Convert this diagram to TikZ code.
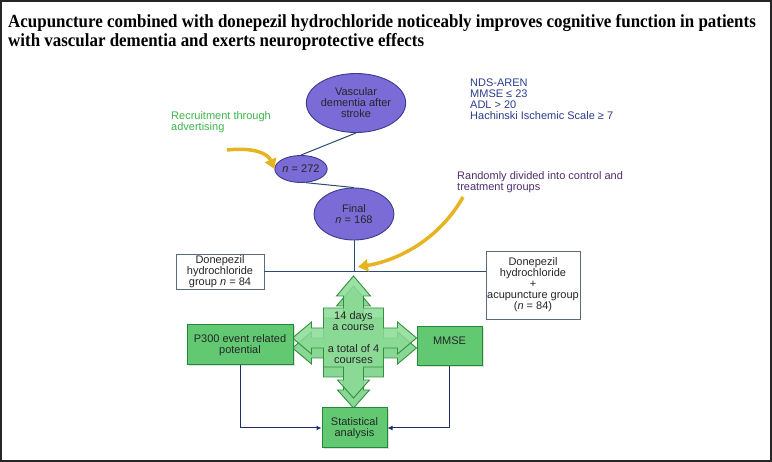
\documentclass[tikz,border=0pt]{standalone}
\usepackage{fontspec}
\setmainfont{Liberation Sans}
\newfontfamily\headfont[FakeStretch=0.915]{Liberation Serif}
\usetikzlibrary{arrows.meta,positioning,calc,shapes.geometric,shadows}
\definecolor{vadpurple}{HTML}{7A6BD6}
\definecolor{vadedge}{HTML}{3B3B8E}
\definecolor{vadline}{HTML}{2C4A6B}
\definecolor{vadbox}{HTML}{5A6B7C}
\definecolor{vadgreen}{HTML}{62C972}
\definecolor{vaddkgreen}{HTML}{23893A}
\definecolor{vadlgreen}{HTML}{8ADB95}
\definecolor{vadgold}{HTML}{E6B422}
\definecolor{vadnavy}{HTML}{1E2F6E}
\definecolor{vadtext}{HTML}{2A3C8C}
\definecolor{vadplum}{HTML}{4E2C6E}
\definecolor{vadleaf}{HTML}{3BB54A}
\newcommand\bodyfs{\fontsize{11}{11}\selectfont}

\begin{document}
\begin{tikzpicture}[
    x=1pt,y=-1pt,
    elli/.style  = {ellipse, draw=vadedge, fill=vadpurple, line width=0.9pt,
                    inner sep=0pt, align=center, font=\bodyfs, text=black!85},
    grp/.style   = {rectangle, draw=vadbox, fill=white, line width=0.8pt,
                    align=center, font=\bodyfs, inner sep=1pt, text=black!85},
    gbox/.style  = {rectangle, draw=vaddkgreen, fill=vadgreen, line width=1pt,
                    align=center, font=\bodyfs, inner sep=1pt, text=black!85,
                    drop shadow={opacity=0.25,shadow xshift=1.5pt,shadow yshift=-1.5pt}},
    lien/.style  = {vadline, line width=1pt},
    conn/.style  = {-{Latex[length=5pt,width=5pt]}, vadnavy, line width=1pt},
    gold/.style  = {-{Triangle[length=10pt,width=12pt]}, vadgold, line width=3.5pt},
    note/.style  = {align=left, font=\bodyfs, inner sep=0pt},
    headl/.style = {anchor=base west, inner sep=0pt,
                    font=\headfont\bfseries\fontsize{18.5}{19}\selectfont},
  ]

  \useasboundingbox (0,0) rectangle (772,462);
  \draw[black!85,line width=2pt] (1,1) rectangle (771,461);

  \node[headl] (titleA) at (8,28) {Acupuncture combined with donepezil hydrochloride noticeably improves cognitive function in patients};
  \node[headl] (titleB) at (8,47) {with vascular dementia and exerts neuroprotective effects};

  % selection of patients
  \node[elli,minimum width=96,minimum height=59] (vas) at (356,103) {Vascular\\dementia after\\stroke};
  \node[elli,minimum width=45,minimum height=27] (n272) at (301,169) {\textit{n} = 272};
  \node[elli,minimum width=80,minimum height=52] (fin) at (354,214) {Final\\\textit{n} = 168};

  \node[note,text=vadleaf,anchor=west] (adtext) at (171,122) {Recruitment through\\advertising};
  \node[note,text=vadtext,anchor=west] (crit) at (470,99) {NDS-AREN\\MMSE ≤ 23\\ADL > 20\\Hachinski Ischemic Scale ≥ 7};
  \node[note,text=vadplum,anchor=west] (rndtext) at (457,182) {Randomly divided into control and\\treatment groups};

  \node[grp,minimum width=88,minimum height=35] (ctrl) at (220,271.5) {Donepezil\\hydrochloride\\group \textit{n} = 84};
  \node[grp,minimum width=94,minimum height=68] (trt) at (533,285) {Donepezil\\hydrochloride\\+\\acupuncture group\\(\textit{n} = 84)};

  \coordinate (split) at (fin.south |- ctrl.east);
  \coordinate (adv) at (227,150);
  \coordinate (rnd) at (463,197);
  \coordinate (rndtip) at (358,267);

  \draw[lien] (vas.south) -- (n272.north);
  \draw[lien] (n272.-70) -- (fin.north);
  \draw[lien] (fin.south) -- (split);
  \draw[lien] (ctrl.east) -- (trt.west |- ctrl.east);

  \draw[gold] (adv) .. controls (255,147) and (268,154) .. (n272.west);
  \draw[gold] (rnd) .. controls (440,238) and (400,260) .. (rndtip);

  % four-way arrow round the course
  \begin{scope}[shift={(353.5,338)}]
    \foreach \dy/\col/\op in {10/vadgreen/0.75, 0/vadlgreen/0.85}
      \filldraw[fill=\col,fill opacity=\op,draw=vadleaf!80!black,line width=0.9pt,shift={(0,\dy)}]
        (0,-62) -- (17,-42) -- (10,-42) -- (10,-30) -- (30,-30) -- (30,-10)
        -- (44,-10) -- (44,-16) -- (63,0) -- (44,16) -- (44,10) -- (30,10)
        -- (30,29) -- (10,29) -- (10,42) -- (16,42) -- (0,60) -- (-16,42)
        -- (-10,42) -- (-10,29) -- (-30,29) -- (-30,10) -- (-42,10) -- (-42,16)
        -- (-61,0) -- (-42,-16) -- (-42,-10) -- (-30,-10) -- (-30,-30)
        -- (-10,-30) -- (-10,-42) -- (-17,-42) -- cycle;
  \end{scope}
  \node[font=\bodyfs,align=center,text=black!85] (course) at (353.5,338)
       {14 days\\a course\\[11pt]a total of 4\\courses};

  \node[gbox,minimum width=106,minimum height=40] (p300) at (240,345) {P300 event related\\potential};
  \node[gbox,minimum width=65,minimum height=39] (mmse) at (449.5,346.5) {MMSE\\~};
  \node[gbox,minimum width=65,minimum height=40] (stats) at (354.5,428) {Statistical\\analysis};

  \draw[conn] (p300.south) |- (stats.west);
  \draw[conn] (mmse.south) |- (stats.east);

\end{tikzpicture}
\end{document}
